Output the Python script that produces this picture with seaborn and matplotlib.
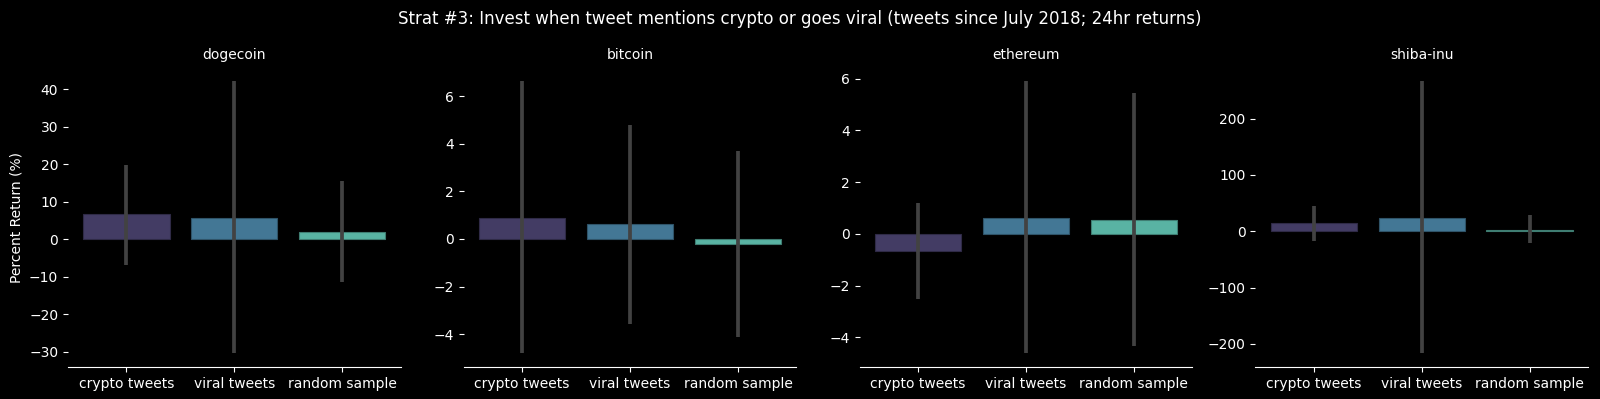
import pandas as pd
import matplotlib
matplotlib.use("Agg")
import matplotlib.pyplot as plt
import seaborn as sns

plt.style.use("dark_background")

coins = ["dogecoin", "bitcoin", "ethereum", "shiba-inu"]
groups = ["crypto tweets", "viral tweets", "random sample"]

# mean 24hr return per coin, in the order of groups
mean_ret = {
    "dogecoin": [6.6, 5.7, 2.05],
    "bitcoin": [0.88, 0.62, -0.19],
    "ethereum": [-0.66, 0.62, 0.55],
    "shiba-inu": [14.2, 23.7, 1.5],
}
# error bar lower / upper ends
err_low = {
    "dogecoin": [-6.8, -30.5, -11.3],
    "bitcoin": [-4.81, -3.57, -4.13],
    "ethereum": [-2.51, -4.62, -4.34],
    "shiba-inu": [-16.6, -217, -21.3],
}
err_high = {
    "dogecoin": [19.8, 42.1, 15.6],
    "bitcoin": [6.62, 4.77, 3.71],
    "ethereum": [1.18, 5.89, 5.46],
    "shiba-inu": [45, 266, 28.4],
}

fig, axes = plt.subplots(1, 4, figsize=(16, 3.99))
fig.subplots_adjust(left=0.0425, right=0.9925, top=0.83, bottom=0.08, wspace=0.19)

for ax, coin in zip(axes, coins):
    df = pd.DataFrame({"group": groups, "ret": mean_ret[coin]})
    sns.barplot(data=df, x="group", y="ret", hue="group", palette="mako",
                legend=False, ax=ax, linewidth=0.8)
    # thin outline in a darker shade of each bar
    for p in ax.patches:
        r, g, b, a = p.get_facecolor()
        p.set_edgecolor((r * 0.7, g * 0.7, b * 0.7, 1))
    ax.vlines(range(len(groups)), err_low[coin], err_high[coin],
              color=".26", linewidth=2.7, zorder=3)
    ax.set_title(coin, fontsize=10)
    ax.set_xlabel("")
    ax.set_ylabel("")
    sns.despine(ax=ax, left=True)

axes[0].set_ylabel("Percent Return (%)")
fig.suptitle("Strat #3: Invest when tweet mentions crypto or goes viral (tweets since July 2018; 24hr returns)",
             fontsize=12, y=0.975)

fig.savefig("out.png", dpi=100)
